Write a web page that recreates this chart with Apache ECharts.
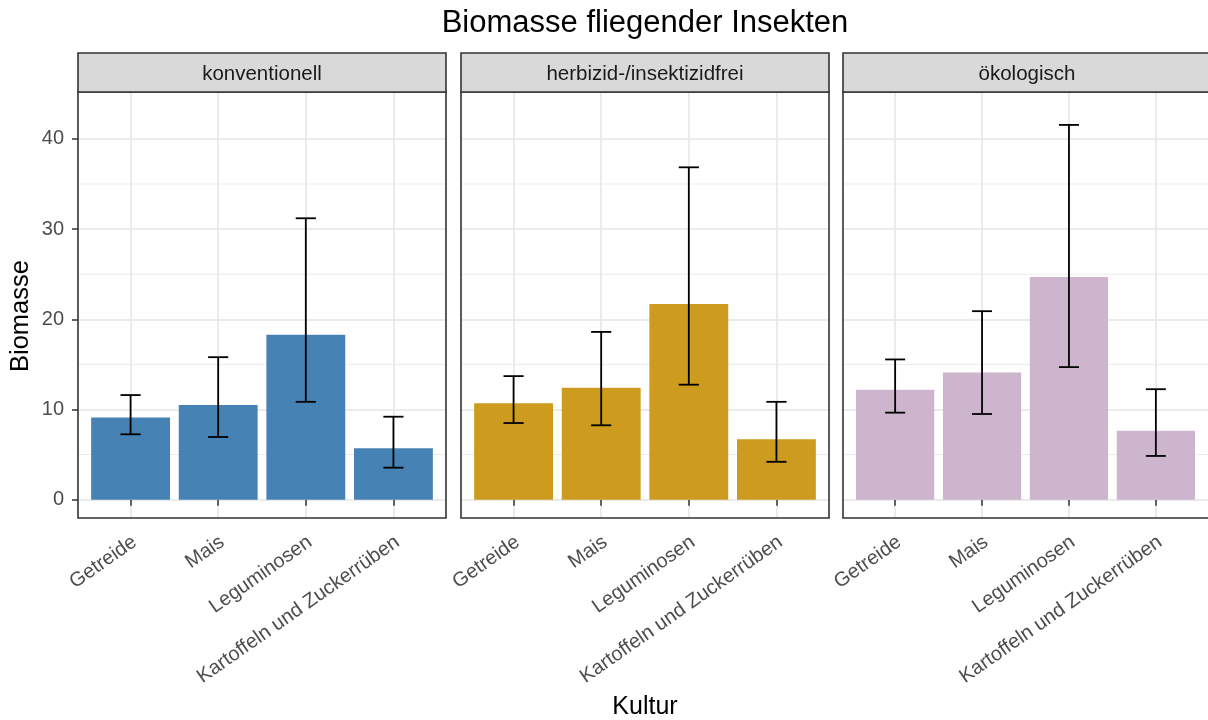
<!DOCTYPE html>
<html>
<head>
<meta charset="utf-8">
<title>Biomasse fliegender Insekten</title>
<script src="https://cdn.jsdelivr.net/npm/echarts@6/dist/echarts.min.js"></script>
<style>
  html, body { margin: 0; padding: 0; background: #ffffff; }
  #chart { width: 1208px; height: 720px; }
</style>
</head>
<body>
<div id="chart"></div>
<script>
// Crops (x axis) and farming systems (one panel each)
const categories = ['Getreide', 'Mais', 'Leguminosen', 'Kartoffeln und Zuckerrüben'];
const systems = ['konventionell', 'herbizid-/insektizidfrei', 'ökologisch'];

// Mean biomass with lower / upper error bounds per system
const meanKonv = [9.1, 10.5, 18.3, 5.7];
const lowKonv = [7.25, 6.95, 10.85, 3.55];
const highKonv = [11.6, 15.8, 31.2, 9.2];

const meanHerb = [10.7, 12.4, 21.7, 6.7];
const lowHerb = [8.5, 8.25, 12.75, 4.2];
const highHerb = [13.7, 18.6, 36.85, 10.85];

const meanOeko = [12.2, 14.1, 24.7, 7.65];
const lowOeko = [9.65, 9.5, 14.7, 4.85];
const highOeko = [15.55, 20.9, 41.55, 12.25];

// Axis breaks
const yMajorTicks = [0, 10, 20, 30, 40];
const yMinorTicks = [5, 15, 25, 35];

const panelMeans = [meanKonv, meanHerb, meanOeko];
const panelLows = [lowKonv, lowHerb, lowOeko];
const panelHighs = [highKonv, highHerb, highOeko];
const panelColors = ['#4682B4', '#CD9B1D', '#CDB5CD'];

// Layout of the three facets
const FONT = '"Liberation Sans", Arial, Helvetica, sans-serif';
const panelLeft = [78, 461, 843];
const panelWidth = 368;
const panelTop = 92;
const panelBottom = 518;
const stripTop = 53;
const X_MIN = 0.4, X_MAX = 4.6;
const Y_MIN = -2.03, Y_MAX = 45.2;
const BAR_HALF = 0.45;
const CAP_HALF = 0.115;

const chart = echarts.init(document.getElementById('chart'), null, { renderer: 'canvas' });

const grids = [], xAxes = [], yAxes = [], series = [], graphics = [];

systems.forEach((name, i) => {
  grids.push({
    left: panelLeft[i],
    top: panelTop,
    width: panelWidth,
    height: panelBottom - panelTop,
    containLabel: false
  });

  xAxes.push({
    gridIndex: i,
    type: 'value',
    min: X_MIN,
    max: X_MAX,
    axisLine: { show: false },
    axisTick: {
      show: true, length: 6, customValues: [1, 2, 3, 4],
      lineStyle: { color: '#333333', width: 1.5 }
    },
    axisLabel: {
      show: true, customValues: [1, 2, 3, 4], rotate: 35, margin: 25,
      color: '#4D4D4D', fontSize: 20, fontFamily: FONT,
      padding: [0, -5, 0, 0],
      formatter: v => categories[Math.round(v) - 1] || ''
    },
    splitLine: { show: true, lineStyle: { color: '#EBEBEB', width: 2 } }
  });

  yAxes.push({
    gridIndex: i,
    type: 'value',
    min: Y_MIN,
    max: Y_MAX,
    axisLine: { show: false },
    axisTick: {
      show: i === 0, length: 6, customValues: yMajorTicks,
      lineStyle: { color: '#333333', width: 1.5 }
    },
    axisLabel: {
      show: i === 0, customValues: yMajorTicks, margin: 14,
      color: '#4D4D4D', fontSize: 20, fontFamily: FONT
    },
    splitLine: { show: true, lineStyle: { color: '#EBEBEB', width: 2 } }
  });

  // minor horizontal grid lines
  series.push({
    type: 'custom',
    xAxisIndex: i, yAxisIndex: i,
    z: 1, silent: true,
    data: yMinorTicks.map(v => [v]),
    encode: { y: 0 },
    renderItem: (params, api) => {
      const v = api.value(0);
      const a = api.coord([X_MIN, v]);
      const b = api.coord([X_MAX, v]);
      return {
        type: 'line',
        shape: { x1: a[0], y1: a[1], x2: b[0], y2: b[1] },
        style: { stroke: '#EBEBEB', lineWidth: 1 }
      };
    }
  });

  // bars
  series.push({
    type: 'custom',
    name: name,
    xAxisIndex: i, yAxisIndex: i,
    z: 2,
    itemStyle: { color: panelColors[i] },
    data: panelMeans[i].map((v, k) => [k + 1, v]),
    encode: { x: 0, y: 1 },
    renderItem: (params, api) => {
      const x = api.value(0), v = api.value(1);
      const p0 = api.coord([x - BAR_HALF, v]);
      const p1 = api.coord([x + BAR_HALF, 0]);
      return {
        type: 'rect',
        shape: { x: p0[0], y: p0[1], width: p1[0] - p0[0], height: p1[1] - p0[1] },
        style: api.style()
      };
    }
  });

  // error bars
  series.push({
    type: 'custom',
    xAxisIndex: i, yAxisIndex: i,
    z: 3,
    data: panelLows[i].map((lo, k) => [k + 1, lo, panelHighs[i][k]]),
    encode: { x: 0, y: [1, 2] },
    renderItem: (params, api) => {
      const x = api.value(0), lo = api.value(1), hi = api.value(2);
      const top = api.coord([x, hi]);
      const bot = api.coord([x, lo]);
      const capL = api.coord([x - CAP_HALF, hi])[0];
      const capR = api.coord([x + CAP_HALF, hi])[0];
      const st = { stroke: '#000000', lineWidth: 1.8 };
      return {
        type: 'group',
        children: [
          { type: 'line', shape: { x1: top[0], y1: top[1], x2: bot[0], y2: bot[1] }, style: st },
          { type: 'line', shape: { x1: capL, y1: top[1], x2: capR, y2: top[1] }, style: st },
          { type: 'line', shape: { x1: capL, y1: bot[1], x2: capR, y2: bot[1] }, style: st }
        ]
      };
    }
  });

  // panel border
  graphics.push({
    type: 'rect', z: 100, silent: true,
    shape: { x: panelLeft[i], y: panelTop, width: panelWidth, height: panelBottom - panelTop },
    style: { fill: null, stroke: '#333333', lineWidth: 1.6 }
  });
  // facet strip
  graphics.push({
    type: 'rect', z: 100, silent: true,
    shape: { x: panelLeft[i], y: stripTop, width: panelWidth, height: panelTop - stripTop },
    style: { fill: '#D9D9D9', stroke: '#333333', lineWidth: 1.6 }
  });
  graphics.push({
    type: 'text', z: 101, silent: true,
    x: panelLeft[i] + panelWidth / 2, y: 74,
    style: {
      text: name, fill: '#1A1A1A', font: '20.5px ' + FONT,
      align: 'center', verticalAlign: 'middle'
    }
  });
});

// titles
graphics.push({
  type: 'text', silent: true, x: 645, y: 23,
  style: { text: 'Biomasse fliegender Insekten', fill: '#000000', font: '31px ' + FONT,
           align: 'center', verticalAlign: 'middle' }
});
graphics.push({
  type: 'text', silent: true, x: 645, y: 707,
  style: { text: 'Kultur', fill: '#000000', font: '25px ' + FONT,
           align: 'center', verticalAlign: 'middle' }
});
graphics.push({
  type: 'text', silent: true, x: 21, y: 316, rotation: Math.PI / 2,
  style: { text: 'Biomasse', fill: '#000000', font: '25.5px ' + FONT,
           align: 'center', verticalAlign: 'middle' }
});

chart.setOption({
  animation: false,
  backgroundColor: '#ffffff',
  textStyle: { fontFamily: FONT },
  grid: grids,
  xAxis: xAxes,
  yAxis: yAxes,
  series: series,
  graphic: { elements: graphics }
});
</script>
</body>
</html>
